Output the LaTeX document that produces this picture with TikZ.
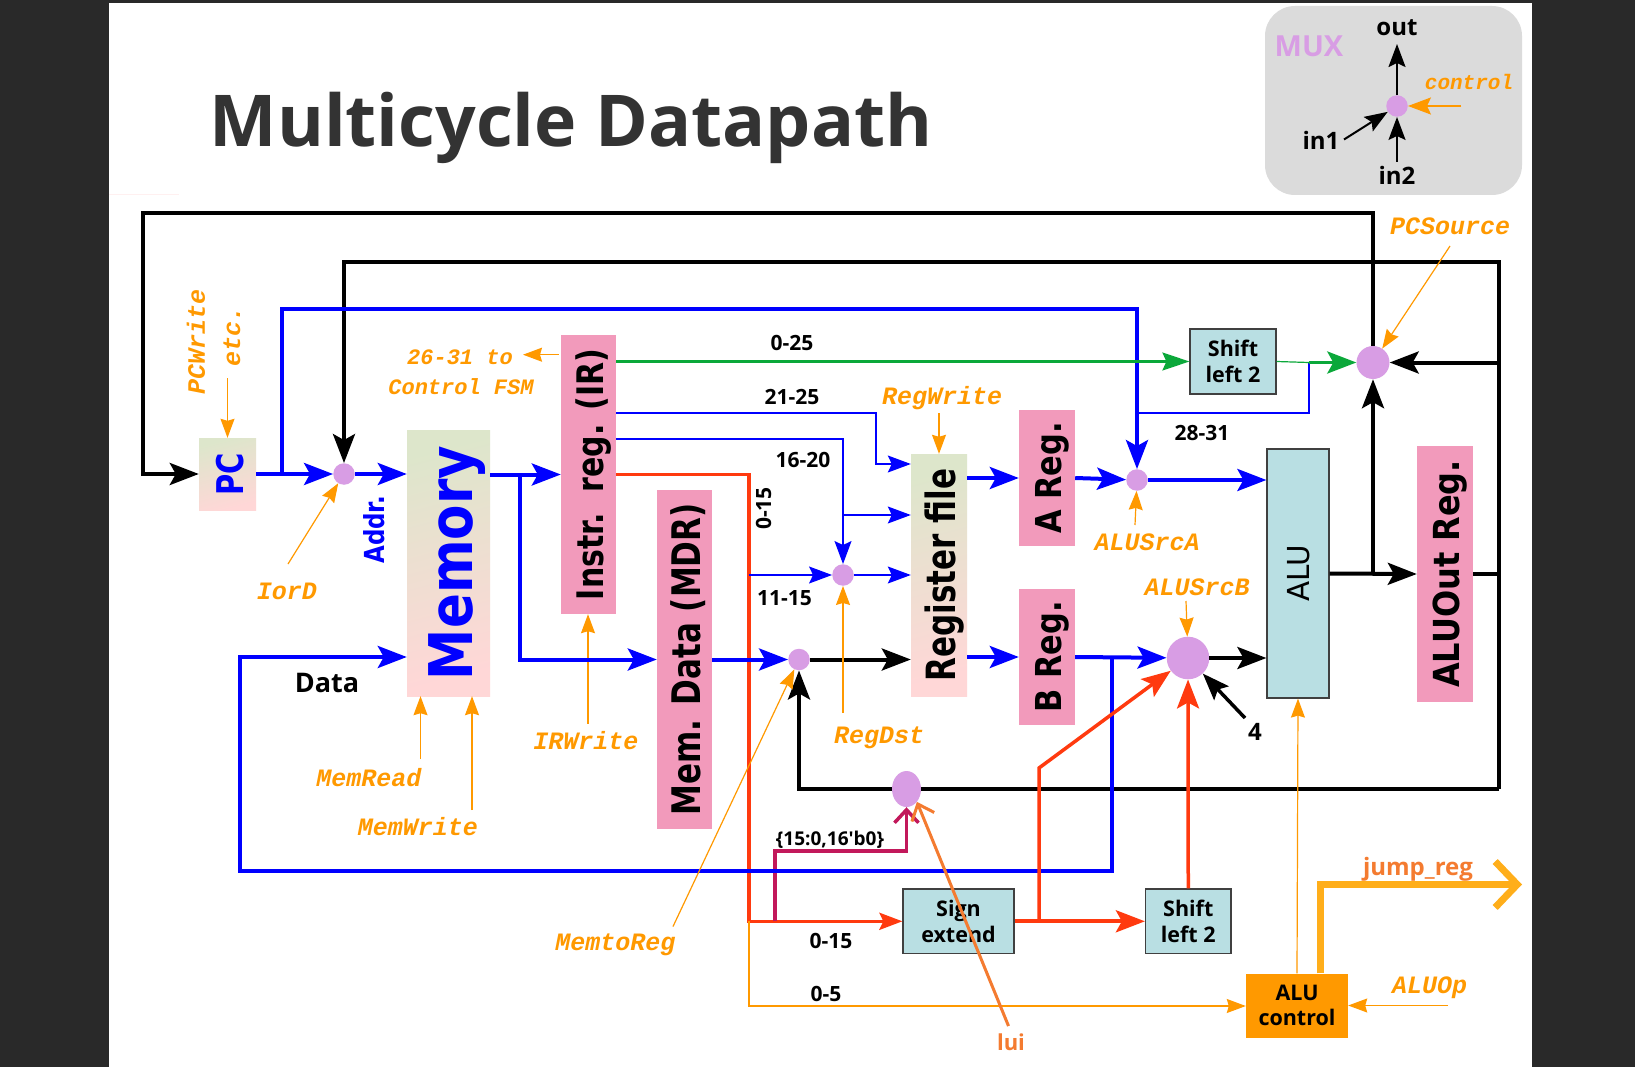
\documentclass[tikz,border=0pt]{standalone}
\usepackage{fontspec}
\usepackage{graphicx}
\usepackage{xcolor}
\usepackage{tikz}
\usetikzlibrary{arrows.meta,shapes.geometric}
\setmainfont{Open Sans}
\setsansfont{DejaVu Sans}
\setmonofont{Liberation Mono}
\newfontfamily\rawfont{Open Sans}
\definecolor{ctlorange}{HTML}{FF9900}
\definecolor{muxviolet}{HTML}{D89DE4}
\definecolor{regpink}{HTML}{F29ABB}
\definecolor{aluteal}{HTML}{B9DFE3}
\definecolor{gradtop}{HTML}{DDE6CB}
\definecolor{gradbot}{HTML}{FFD7D7}
\definecolor{busred}{HTML}{FF3A0F}
\definecolor{busgreen}{HTML}{0BA83A}
\definecolor{luired}{HTML}{F47B30}
\definecolor{immred}{HTML}{C2185B}
\definecolor{jumpamber}{HTML}{FFAE1A}
\newcommand{\vtext}[3]{\rotatebox{90}{\raisebox{-#1pt}[0pt][0pt]{\scalebox{1}[#2]{#3}}}}
\begin{document}
\begin{tikzpicture}[x=1pt,y=-1pt,
  bighead/.style={-{Stealth[length=29pt,width=22pt,inset=6pt]}},
  midhead/.style={-{Stealth[length=23pt,width=17pt,inset=4pt]}},
  ctlhead/.style={-{Stealth[length=19pt,width=14pt,inset=2pt]}},
  blackbus/.style={line width=4pt,draw=black},
  bluebus/.style={line width=4pt,draw=blue},
  bluewire/.style={line width=1.2pt,draw=blue},
  redbus/.style={line width=3.5pt,draw=busred},
  ctlwire/.style={line width=1.2pt,draw=ctlorange,ctlhead},
  muxdot/.style={circle,fill=muxviolet,inner sep=0pt,minimum size=21.5pt},
  regbox/.style={fill=regpink,inner sep=0pt,font=\sffamily\bfseries\fontsize{31}{36}\selectfont},
  gradbox/.style={top color=gradtop,bottom color=gradbot,shading angle=15,inner sep=0pt,font=\sffamily\bfseries\fontsize{31}{36}\selectfont},
  funcbox/.style={fill=aluteal,draw=black!75,line width=1.2pt,inner sep=0pt,align=center,font=\bfseries\fontsize{21.5}{25.5}\selectfont},
  ctltext/.style={inner sep=0pt,text=ctlorange,font=\ttfamily\bfseries\itshape\fontsize{25}{29}\selectfont},
  ctlsmall/.style={ctltext,font=\ttfamily\bfseries\itshape\fontsize{22}{26}\selectfont},
  bittext/.style={inner sep=0pt,font=\bfseries\fontsize{21}{25}\selectfont},
  legtext/.style={inner sep=0pt,font=\bfseries\fontsize{24}{28}\selectfont}]
\useasboundingbox (0,0) rectangle (1635,1067);
\fill[black!84] (0,0) rectangle (1635,1067);
\fill[white] (109,3) rectangle (1532,1067);
\fill[red!6] (109,194.5) rectangle (179,195.5);

\node[inner sep=0pt,anchor=base west,text=black!80,font=\bfseries\fontsize{71.5}{80}\selectfont] (title) at (209.5,147) {Multicycle Datapath};

% legend
\node[fill=black!14,rounded corners=30pt,minimum width=257pt,minimum height=189pt] (legend) at (1393.5,100.5) {};
\node[inner sep=0pt,text=muxviolet,font=\bfseries\fontsize{29}{33}\selectfont] (legmux) at (1309,46) {MUX};
\node[muxdot] (legdot) at (1397,106) {};
\node[legtext] (legout) at (1397,28) {out};
\node[legtext] (legin1) at (1321,140) {in1};
\node[legtext] (legin2) at (1397,175) {in2};
\node[ctltext,font=\ttfamily\bfseries\itshape\fontsize{21}{25}\selectfont] (legctl) at (1469,82) {control};
\coordinate (legouttip) at (1397,44);
\coordinate (legin1src) at (1344,139.5);
\coordinate (legin2src) at (1397,162);
\coordinate (legctlsrc) at (1461,106);
\draw[midhead,line width=2pt] (legdot) -- (legouttip);
\draw[midhead,line width=2pt] (legin1src) -- (legdot);
\draw[midhead,line width=2pt] (legin2src) -- (legdot);
\draw[midhead,line width=2pt,draw=ctlorange] (legctlsrc) -- (legdot);

% state elements
\node[gradbox,minimum width=57pt,minimum height=72pt,text=blue,font=\sffamily\bfseries\fontsize{29}{33}\selectfont] (pc) at (227.5,474) {\vtext{15.5}{1.27}{PC}};
\node[gradbox,minimum width=83pt,minimum height=266pt,text=blue,font=\sffamily\bfseries\fontsize{51.5}{58}\selectfont] (mem) at (448.5,563) {\vtext{23.5}{1.17}{Memory}};
\node[regbox,minimum width=55pt,minimum height=279pt,font=\sffamily\bfseries\fontsize{30}{35}\selectfont] (ir) at (588.5,474.5) {\vtext{14.5}{1.22}{Instr.\ \ reg. (IR)}};
\node[regbox,minimum width=55pt,minimum height=339pt] (mdr) at (684.5,659.5) {\vtext{15.5}{1.27}{Mem. Data (MDR)}};
\node[gradbox,minimum width=56pt,minimum height=242pt] (regfile) at (939,575) {\vtext{16}{1.3}{Register file}};
\node[regbox,minimum width=56pt,minimum height=136pt,font=\sffamily\bfseries\fontsize{30.5}{35}\selectfont] (areg) at (1047,478) {\vtext{14}{1.17}{A Reg.}};
\node[regbox,minimum width=56pt,minimum height=136pt,font=\sffamily\bfseries\fontsize{30.5}{35}\selectfont] (breg) at (1047,657) {\vtext{14}{1.17}{B Reg.}};
\node[regbox,minimum width=56pt,minimum height=256pt,font=\sffamily\bfseries\fontsize{32}{37}\selectfont] (aluout) at (1445,574) {\vtext{14}{1.12}{ALUOut Reg.}};
\node[funcbox,minimum width=62pt,minimum height=249pt,font=\sffamily\fontsize{29.4}{34}\selectfont] (alu) at (1298,573.5) {\vtext{11}{1.03}{ALU}};
\node[funcbox,minimum width=86pt,minimum height=65pt] (shiftj) at (1233,361.5) {Shift\\left 2};
\node[funcbox,minimum width=85.5pt,minimum height=64.5pt] (shiftb) at (1188.25,921.3) {Shift\\left 2};
\node[funcbox,minimum width=111pt,minimum height=64.5pt] (signext) at (958.5,921.3) {Sign\\extend};
\node[inner sep=0pt,fill=ctlorange,minimum width=102pt,minimum height=64pt,align=center,font=\bfseries\fontsize{21.5}{25.5}\selectfont] (aluctl) at (1297,1005.5) {ALU\\control};

% muxes
\node[muxdot] (muxaddr) at (344,474) {};
\node[muxdot] (muxdst) at (843,575) {};
\node[muxdot] (muxmem) at (799,659.5) {};
\node[muxdot] (muxa) at (1137,480) {};
\node[muxdot,minimum size=42.5pt] (muxb) at (1188,658) {};
\node[muxdot,minimum size=33pt] (muxpc) at (1373,362.5) {};
\node[ellipse,fill=muxviolet,inner sep=0pt,minimum width=29pt,minimum height=36pt] (muxlui) at (906.5,789) {};

% junctions
\coordinate (pcloopa) at (143,213);
\coordinate (pcloopb) at (1373,213);
\coordinate (pcloopc) at (143,474);
\coordinate (addrloopa) at (344,262);
\coordinate (addrloopb) at (1499,262);
\coordinate (addrloopc) at (1499,789);
\coordinate (retcorner) at (799,789);
\coordinate (aluoutj) at (1499,574);
\coordinate (pcsrcj) at (1499,362.5);
\coordinate (alutoj) at (1373,573.5);
\coordinate (pcbranch) at (282,474);
\coordinate (pcupa) at (282,309);
\coordinate (pcupb) at (1137,309);
\coordinate (memj) at (520,474.5);
\coordinate (memdown) at (520,659.5);
\coordinate (dataa) at (240,657);
\coordinate (datab) at (240,871);
\coordinate (datac) at (1112,871);
\coordinate (datad) at (1112,658);
\coordinate (wiretop) at (876,413);
\coordinate (wiremid) at (876,464);
\coordinate (wirertop) at (843,439);
\coordinate (wirerj) at (843,515);
\coordinate (immj) at (749,474.5);
\coordinate (immdn) at (749,921.3);
\coordinate (immlow) at (749,1006);
\coordinate (imm1115) at (749,575);
\coordinate (luihi) at (775,921.3);
\coordinate (luicorn) at (775,851);
\coordinate (signj) at (1039,921.3);
\coordinate (signup) at (1039,768);
\coordinate (hi2831a) at (1138,413);
\coordinate (hi2831b) at (1309,413);
\coordinate (hi2831c) at (1309,362.5);
\coordinate (irwsrc) at (588,723.5);

% black buses, then the ones that cross over them
\draw[blackbus,bighead] (muxmem) -- (regfile.west |- muxmem);
\draw[blackbus,bighead] (muxb) -- (alu.west |- muxb);
\draw[blackbus,bighead] (alu.east) -- (aluout.west);
\draw[blackbus] (aluout.east) -- (aluoutj);
\draw[blackbus,bighead] (alutoj) -- (muxpc);
\draw[blackbus,bighead] (pcsrcj) -- (muxpc);
\draw[blackbus,bighead] (muxpc) -- (pcloopb) -- (pcloopa) -- (pcloopc) -- (pc.west);
\draw[blackbus,bighead] (addrloopc) -- (addrloopb) -- (addrloopa) -- (muxaddr);
\draw[blackbus] (addrloopc) -- (muxlui);
\draw[blackbus,bighead] (muxlui) -- (retcorner) -- (muxmem);

\draw[redbus,midhead] (ir.east |- immj) -- (immj) -- (immdn) -- (signext.west);
\draw[line width=3.5pt,draw=immred,-{Straight Barb[length=13pt,width=24pt]}] (luihi) -- (luicorn) -- (muxlui.south |- luicorn) -- (muxlui.south);
\draw[ctlwire] (irwsrc) -- (ir.south -| irwsrc);

\draw[bluebus,bighead] (pc) -- (muxaddr);
\draw[bluebus,bighead] (pcbranch) -- (pcupa) -- (pcupb) -- (muxa.north);
\draw[bluebus,bighead] (muxaddr) -- (mem.west |- muxaddr);
\draw[bluebus,bighead] (mem.east |- memj) -- (ir.west |- memj);
\draw[bluebus,bighead] (memj) -- (memdown) -- (mdr.west |- memdown);
\draw[bluebus,bighead] (mdr.east |- muxmem) -- (muxmem);
\draw[bluebus,bighead] (datad) -- (datac) -- (datab) -- (dataa) -- (mem.west |- dataa);
\draw[bluebus,bighead] (regfile.east |- areg) -- (areg.west);
\draw[bluebus,bighead] (regfile.east |- breg) -- (breg.west);
\draw[bluebus,bighead] (areg.east) -- (muxa);
\draw[bluebus,bighead] (breg.east) -- (muxb);
\draw[bluebus,bighead] (muxa) -- (alu.west |- muxa);

\draw[bluewire,midhead] (ir.east |- wiretop) -- (wiretop) -- (wiremid) -- (regfile.west |- wiremid);
\draw[bluewire,midhead] (ir.east |- wirertop) -- (wirertop) -- (muxdst);
\draw[bluewire,midhead] (wirerj) -- (regfile.west |- wirerj);
\draw[bluewire,midhead] (muxdst) -- (regfile.west |- muxdst);
\draw[bluewire,midhead] (imm1115) -- (muxdst);
\draw[bluewire] (hi2831a) -- (hi2831b) -- (hi2831c);

\draw[line width=2.2pt,draw=busgreen,-{Stealth[length=27pt,width=18pt,inset=4pt]}] (ir.east |- shiftj) -- (shiftj.west);
\draw[line width=1.2pt,draw=busgreen] (shiftj.east) -- (hi2831c);
\draw[line width=3.5pt,draw=busgreen,bighead] (hi2831c) -- (muxpc);

\draw[redbus,line width=4pt,bighead] (signext.east) -- (shiftb.west);
\draw[redbus,bighead] (signj) -- (signup) -- (muxb);
\draw[redbus,bighead] (shiftb.north) -- (muxb);

% control signals
\node[ctlsmall] (lblfsma) at (460,357) {26-31 to};
\node[ctlsmall] (lblfsmb) at (461,387) {Control FSM};
\node[ctltext,rotate=90] (lblpcw) at (196,342) {PCWrite};
\node[ctltext,rotate=90] (lbletc) at (232,336) {etc.};
\node[ctltext] (lbliord) at (287,591) {IorD};
\node[ctltext] (lblmemr) at (369,778) {MemRead};
\node[ctltext] (lblmemw) at (418,827) {MemWrite};
\node[ctltext] (lblirw) at (586,741) {IRWrite};
\node[ctltext] (lblm2r) at (615.5,944.5) {MemtoReg};
\node[ctltext] (lblregd) at (879,737.5) {RegDst};
\node[ctltext] (lblregw) at (942,398.5) {RegWrite};
\node[ctltext] (lblsrca) at (1147,542) {ALUSrcA};
\node[ctltext] (lblsrcb) at (1197,587.5) {ALUSrcB};
\node[ctltext] (lblpcs) at (1450,226.5) {PCSource};
\node[ctltext] (lblop) at (1429.5,988) {ALUOp};

\coordinate (fsmsrc) at (558.5,354.7);
\coordinate (fsmtip) at (523,354.7);
\coordinate (pcwsrc) at (227.5,378);
\coordinate (iordsrc) at (288,564);
\coordinate (memrsrc) at (420.5,759);
\coordinate (memwsrc) at (472,810);
\coordinate (m2rsrc) at (673,926.5);
\coordinate (regdsrc) at (843,712.5);
\coordinate (regwsrc) at (939,413);
\coordinate (srcasrc) at (1135,525);
\coordinate (srcbsrc) at (1186,601);
\coordinate (pcssrc) at (1450,246);
\coordinate (opsrc) at (1448,1005.5);

\draw[ctlwire] (fsmsrc) -- (fsmtip);
\draw[ctlwire] (pcwsrc) -- (pc.north -| pcwsrc);
\draw[ctlwire] (iordsrc) -- (muxaddr);
\draw[ctlwire] (memrsrc) -- (mem.south -| memrsrc);
\draw[ctlwire] (memwsrc) -- (mem.south -| memwsrc);
\draw[ctlwire] (m2rsrc) -- (muxmem);
\draw[ctlwire] (regdsrc) -- (muxdst);
\draw[ctlwire] (regwsrc) -- (regfile.north -| regwsrc);
\draw[ctlwire] (srcasrc) -- (muxa);
\draw[ctlwire] (srcbsrc) -- (muxb);
\draw[ctlwire] (pcssrc) -- (muxpc);
\draw[ctlwire] (opsrc) -- (aluctl.east);
\draw[ctlwire] (aluctl.north) -- (alu.south);
\draw[ctlwire] (immdn) -- (immlow) -- (aluctl.west |- immlow);

\coordinate (jumpa) at (1320,884.5);
\coordinate (jumpb) at (1522,884.5);
\draw[line width=7pt,draw=jumpamber,-{Straight Barb[length=22pt,width=46pt]}] (aluctl.north -| jumpa) -- (jumpa) -- (jumpb);
\node[inner sep=0pt,text=luired,font=\bfseries\fontsize{24}{28}\selectfont] (lbljump) at (1418,869) {jump\_reg};

\coordinate (luisrc) at (1008.5,1026);
\draw[line width=3pt,draw=luired,-{Straight Barb[length=14pt,width=24pt]}] (luisrc) -- (muxlui.south east);
\node[inner sep=0pt,text=luired,font=\bfseries\fontsize{22}{26}\selectfont] (lbllui) at (1011,1042) {lui};

% wire labels
\node[bittext] (bita) at (792,343) {0-25};
\node[bittext] (bitb) at (792,397) {21-25};
\node[bittext] (bitc) at (803,460) {16-20};
\node[bittext,rotate=90] (bitd) at (763.5,508.5) {0-15};
\node[bittext] (bite) at (784.5,598.5) {11-15};
\node[bittext] (bitf) at (1202,433) {28-31};
\node[bittext] (bitg) at (831,940.5) {0-15};
\node[bittext] (bith) at (826,994) {0-5};
\node[bittext,font=\rawfont\bfseries\fontsize{19}{23}\selectfont] (biti) at (830,840) {\{15:0,16'b0\}};
\node[bittext,font=\bfseries\fontsize{27}{31}\selectfont] (lbldata) at (327,683) {Data};
\node[inner sep=0pt,text=blue,font=\sffamily\bfseries\fontsize{23}{27}\selectfont] (lbladdr) at (373,530) {\vtext{11}{1.2}{Addr.}};
\coordinate (foursrc) at (1245,718);
\draw[line width=3.5pt,-{Stealth[length=27pt,width=20pt,inset=5pt]}] (foursrc) -- (muxb);
\node[legtext] (lblfour) at (1255,732) {4};
\end{tikzpicture}
\end{document}
